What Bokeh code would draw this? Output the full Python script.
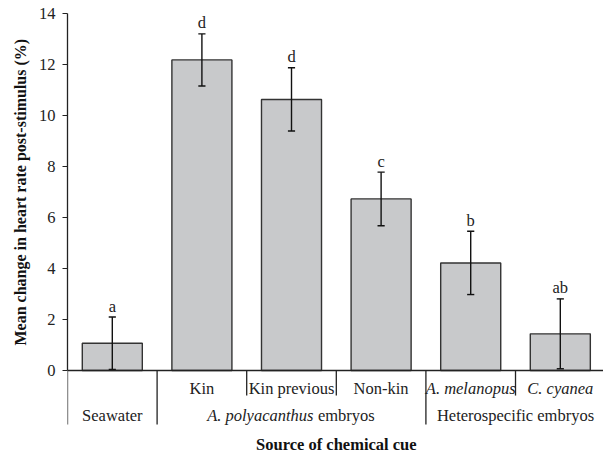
from bokeh.plotting import figure
from bokeh.models import Range1d, FixedTicker, ColumnDataSource, Title
from bokeh.core.properties import value
from bokeh.embed import file_html
from bokeh.resources import INLINE

# ---- data ----
categories = ["Seawater", "Kin", "Kin previous", "Non-kin", "A. melanopus", "C. cyanea"]
means = [1.07, 12.18, 10.63, 6.73, 4.22, 1.44]
errors = [1.03, 1.02, 1.24, 1.05, 1.24, 1.37]
letters = ["a", "d", "d", "c", "b", "ab"]
y_ticks = [0, 2, 4, 6, 8, 10, 12, 14]
sub_labels = ["", "Kin", "Kin previous", "Non-kin", "A. melanopus", "C. cyanea"]
sub_italic = [False, False, False, False, True, True]
group_names = ["Seawater", "A. polyacanthus embryos", "Heterospecific embryos"]
group_sizes = [1, 3, 2]

FONT = value("Liberation Serif")
DARK = "#222222"
FS = "16.5px"

xs = [i + 0.5 for i in range(len(categories))]
upper = [m + e for m, e in zip(means, errors)]
lower = [max(0.0, m - e) for m, e in zip(means, errors)]
src = ColumnDataSource(dict(x=xs, top=means, upper=upper, lower=lower, letter=letters,
                            ly=[u + 0.43 for u in upper],
                            cl=[x - 0.04 for x in xs], cr=[x + 0.04 for x in xs]))

p = figure(width=603, height=456, output_backend="svg", toolbar_location=None,
           x_range=Range1d(0, 5.982), y_range=Range1d(-3.37, 14),
           min_border_left=67, min_border_right=0, min_border_top=13, min_border_bottom=0)
p.outline_line_color = None
p.xgrid.visible = False
p.ygrid.visible = False
p.xaxis.visible = False

ya = p.yaxis[0]
ya.bounds = (0, 14)
ya.ticker = FixedTicker(ticks=y_ticks)
ya.minor_tick_line_color = None
ya.major_tick_out = 5
ya.major_tick_in = 0
ya.major_tick_line_color = DARK
ya.axis_line_color = DARK
ya.axis_line_width = 1.3
ya.major_label_text_font = "Liberation Serif"
ya.major_label_text_font_size = FS
ya.major_label_text_color = DARK
ya.major_label_standoff = 7

# y axis title (placed along the 0-14 span)
p.add_layout(Title(text="Mean change in heart rate post-stimulus (%)",
                   text_font="Liberation Serif", text_font_style="bold",
                   text_font_size="16px", text_color="#111111",
                   align="left", offset=111, standoff=14), "left")

# bars
p.vbar(x="x", top="top", width=0.67, bottom=0, source=src,
       fill_color="#c8c9cb", line_color="#333333", line_width=1.4)

# error bars
p.segment(x0="x", y0="lower", x1="x", y1="upper", source=src,
          line_color="#111111", line_width=1.4)
p.segment(x0="cl", y0="upper", x1="cr", y1="upper", source=src,
          line_color="#111111", line_width=1.4)
p.segment(x0="cl", y0="lower", x1="cr", y1="lower", source=src,
          line_color="#111111", line_width=1.4)

# significance letters
p.text(x="x", y="ly", text="letter", source=src, text_font=FONT,
       text_font_size=FS, text_align="center", text_baseline="middle",
       text_color=DARK)

# x axis line
p.segment(x0=[0], y0=[0], x1=[6], y1=[0], line_color=DARK, line_width=1.5)

# separators
long_x = []
short_x = []
start = 0
for g in group_sizes:
    long_x.append(start)
    for k in range(1, g):
        short_x.append(start + k)
    start += g
p.segment(x0=long_x, y0=[0] * len(long_x), x1=long_x, y1=[-2.12] * len(long_x),
          line_color=DARK, line_width=1.3)
p.segment(x0=short_x, y0=[0] * len(short_x), x1=short_x, y1=[-0.98] * len(short_x),
          line_color=DARK, line_width=1.3)

# sub-category labels (row 1)
for xv, lab, it in zip(xs, sub_labels, sub_italic):
    if lab:
        p.text(x=[xv], y=[-0.71], text=[lab], text_font=FONT, text_font_size=FS,
               text_align="center", text_baseline="middle", text_color=DARK,
               text_font_style="italic" if it else "normal")

# group labels (row 2)
start = 0
for name, g in zip(group_names, group_sizes):
    cx = start + g / 2
    if name.startswith("A. polyacanthus"):
        sp = name.split(" embryos")[0]
        split = cx + 0.245
        p.text(x=[split], y=[-1.75], text=[sp], text_font=FONT, text_font_size=FS,
               text_align="right", text_baseline="middle", text_color=DARK,
               text_font_style="italic")
        p.text(x=[split], y=[-1.75], text=["embryos"], text_font=FONT, text_font_size=FS,
               text_align="left", text_baseline="middle", text_color=DARK, x_offset=4.5)
    else:
        p.text(x=[cx], y=[-1.75], text=[name], text_font=FONT, text_font_size=FS,
               text_align="center", text_baseline="middle", text_color=DARK)
    start += g

# x axis title
p.text(x=[3.0], y=[-2.90], text=["Source of chemical cue"], text_font=FONT,
       text_font_size="16.5px", text_font_style="bold", text_align="center",
       text_baseline="middle", text_color="#111111")

open("out.html", "w").write(file_html(p, INLINE))
